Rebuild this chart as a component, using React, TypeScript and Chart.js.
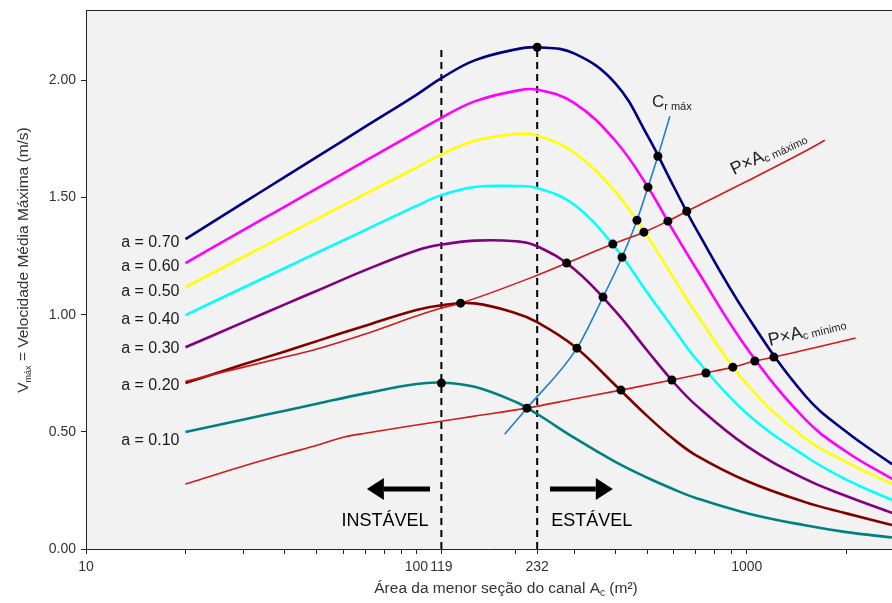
import React, { useEffect, useRef } from "react";
import { Chart, registerables } from "chart.js";

Chart.register(...registerables);

// ---------- data ----------
const areas = [20, 30, 40, 50, 70, 100, 119, 150, 200, 232, 300, 400, 500, 600, 700, 1000, 1500, 2000, 2750];
const vA70 = [1.322, 1.478, 1.588, 1.673, 1.802, 1.938, 2.009, 2.085, 2.132, 2.141, 2.115, 1.987, 1.765, 1.548, 1.369, 0.998, 0.655, 0.5, 0.362];
const vA60 = [1.22, 1.362, 1.461, 1.539, 1.656, 1.78, 1.84, 1.91, 1.955, 1.96, 1.904, 1.742, 1.548, 1.356, 1.2, 0.857, 0.554, 0.415, 0.299];
const vA50 = [1.117, 1.247, 1.338, 1.409, 1.515, 1.628, 1.684, 1.742, 1.771, 1.764, 1.692, 1.525, 1.335, 1.157, 1.009, 0.703, 0.473, 0.371, 0.277];
const vA40 = [0.998, 1.116, 1.199, 1.264, 1.361, 1.464, 1.51, 1.545, 1.549, 1.54, 1.47, 1.286, 1.093, 0.94, 0.813, 0.578, 0.397, 0.296, 0.209];
const vA30 = [0.861, 0.968, 1.044, 1.102, 1.19, 1.274, 1.299, 1.316, 1.313, 1.292, 1.195, 1.015, 0.846, 0.712, 0.615, 0.439, 0.299, 0.226, 0.154];
const vA20 = [0.708, 0.788, 0.843, 0.887, 0.953, 1.02, 1.04, 1.048, 1.006, 0.968, 0.866, 0.699, 0.567, 0.469, 0.401, 0.29, 0.2, 0.152, 0.102];
const vA10 = [0.499, 0.553, 0.59, 0.62, 0.664, 0.704, 0.71, 0.692, 0.627, 0.576, 0.475, 0.372, 0.304, 0.255, 0.218, 0.153, 0.101, 0.072, 0.049];

const curveValues = [vA70, vA60, vA50, vA40, vA30, vA20, vA10];
const curveLabels = ["a = 0.70", "a = 0.60", "a = 0.50", "a = 0.40", "a = 0.30", "a = 0.20", "a = 0.10"];
const curveLabelY = [1.309, 1.207, 1.1, 0.981, 0.857, 0.699, 0.461];
const curveColors = ["#000080", "#ff00ff", "#ffff00", "#00ffff", "#800080", "#800000", "#008080"];

const pacMaxArea = [20, 30, 40, 50, 70, 100, 119, 136, 232, 285, 393, 488, 577, 658, 1000, 1500, 1722];
const pacMaxV = [0.716, 0.776, 0.819, 0.853, 0.917, 0.994, 1.028, 1.049, 1.168, 1.22, 1.301, 1.352, 1.399, 1.441, 1.569, 1.697, 1.744];

const pacMinArea = [20, 30, 40, 50, 60.5, 70, 100, 150, 216, 300, 416, 593, 752, 907, 1057, 1207, 2133];
const pacMinV = [0.277, 0.354, 0.405, 0.443, 0.478, 0.494, 0.529, 0.567, 0.601, 0.64, 0.678, 0.721, 0.751, 0.776, 0.802, 0.819, 0.9];

const crArea = [185, 216, 306, 367, 419, 465, 502, 538, 585];
const crV = [0.49, 0.601, 0.857, 1.075, 1.245, 1.403, 1.544, 1.676, 1.847];

const dotArea = [232, 119, 136, 285, 393, 488, 577, 658, 216, 306, 367, 419, 465, 502, 538, 416, 593, 752, 907, 1057, 1207];
const dotV = [2.141, 0.708, 1.049, 1.22, 1.301, 1.352, 1.399, 1.441, 0.601, 0.857, 1.075, 1.245, 1.403, 1.544, 1.676, 0.678, 0.721, 0.751, 0.776, 0.802, 0.819];

const limitAreas = [119, 232];
const limitTop = 2.15;

const xTickValues = [10, 20, 30, 40, 50, 60, 70, 80, 90, 100, 119, 200, 232, 300, 400, 500, 600, 700, 800, 900, 1000, 2000];
const xLabeledTicks = [10, 100, 119, 232, 1000];
const yTickValues = [0, 0.5, 1.0, 1.5, 2.0];

const FONT = '"Liberation Sans", Arial, sans-serif';

type Part = { t: string; s: number; dy?: number };

function drawRich(ctx: CanvasRenderingContext2D, parts: Part[], x: number, y: number, align: "left" | "center") {
  let w = 0;
  for (const p of parts) {
    ctx.font = `${p.s}px ${FONT}`;
    w += ctx.measureText(p.t).width;
  }
  let cx = align === "center" ? x - w / 2 : x;
  ctx.textAlign = "left";
  ctx.textBaseline = "alphabetic";
  for (const p of parts) {
    ctx.font = `${p.s}px ${FONT}`;
    ctx.fillText(p.t, cx, y + (p.dy || 0));
    cx += ctx.measureText(p.t).width;
  }
}

const decorPlugin = {
  id: "decor",
  beforeDraw(chart: any) {
    const { ctx, chartArea } = chart;
    ctx.save();
    ctx.fillStyle = "#ffffff";
    ctx.fillRect(0, 0, chart.width, chart.height);
    ctx.fillStyle = "#f2f2f2";
    ctx.fillRect(chartArea.left, chartArea.top, chartArea.right - chartArea.left, chartArea.bottom - chartArea.top);
    ctx.restore();
  },
  afterDatasetsDraw(chart: any) {
    const { ctx, chartArea } = chart;
    const xs = chart.scales.x;
    const ys = chart.scales.y;
    const X = (v: number) => xs.getPixelForValue(v);
    const Y = (v: number) => ys.getPixelForValue(v);
    ctx.save();

    // top border
    ctx.strokeStyle = "#222";
    ctx.lineWidth = 1;
    ctx.beginPath();
    ctx.moveTo(chartArea.left, chartArea.top + 0.5);
    ctx.lineTo(chartArea.right, chartArea.top + 0.5);
    ctx.stroke();

    // curve labels
    ctx.fillStyle = "#1a1a1a";
    ctx.font = `16px ${FONT}`;
    ctx.textAlign = "right";
    ctx.textBaseline = "middle";
    const x0 = X(areas[0]) - 6;
    curveLabels.forEach((t, i) => ctx.fillText(t, x0, Y(curveLabelY[i])));

    // arrows
    const ay = Y(0.256);
    const drawArrow = (tail: number, tip: number) => {
      const xt = X(tail);
      const xp = X(tip);
      const dir = xp > xt ? 1 : -1;
      const headLen = 17;
      ctx.fillStyle = "#000";
      ctx.fillRect(Math.min(xt, xp - dir * headLen), ay - 2.5, Math.abs(xp - dir * headLen - xt), 5);
      ctx.beginPath();
      ctx.moveTo(xp, ay);
      ctx.lineTo(xp - dir * headLen, ay - 11);
      ctx.lineTo(xp - dir * headLen, ay + 11);
      ctx.closePath();
      ctx.fill();
    };
    drawArrow(109.9, 70.8);
    drawArrow(253.6, 393);

    ctx.fillStyle = "#000";
    ctx.font = `18px ${FONT}`;
    ctx.textAlign = "center";
    ctx.textBaseline = "middle";
    ctx.fillText("INSTÁVEL", X(80.3), Y(0.119));
    ctx.fillText("ESTÁVEL", X(339.6), Y(0.119));

    // Cr máx label
    ctx.fillStyle = "#222";
    drawRich(ctx, [{ t: "C", s: 17 }, { t: "r máx", s: 11, dy: 3 }], X(516), Y(1.885), "left");

    // P×Ac máximo
    ctx.save();
    ctx.translate(X(913), Y(1.595));
    ctx.rotate((-25 * Math.PI) / 180);
    drawRich(ctx, [{ t: "P×A", s: 18 }, { t: "c máximo", s: 11, dy: 2 }], 0, 0, "left");
    ctx.restore();

    // P×Ac mínimo
    ctx.save();
    ctx.translate(X(1174), Y(0.866));
    ctx.rotate((-14 * Math.PI) / 180);
    drawRich(ctx, [{ t: "P×A", s: 18 }, { t: "c mínimo", s: 11, dy: 2 }], 0, 0, "left");
    ctx.restore();

    // axis titles
    ctx.fillStyle = "#333";
    drawRich(
      ctx,
      [{ t: "Área da menor seção do canal A", s: 15.5 }, { t: "c", s: 10, dy: 3 }, { t: " (m²)", s: 15.5 }],
      506,
      593,
      "center"
    );
    ctx.save();
    ctx.translate(28, 260);
    ctx.rotate(-Math.PI / 2);
    drawRich(
      ctx,
      [{ t: "V", s: 15.5 }, { t: "máx", s: 9, dy: 3 }, { t: " = Velocidade Média Máxima (m/s)", s: 15.5 }],
      0,
      0,
      "center"
    );
    ctx.restore();

    ctx.restore();
  },
};

export default function App() {
  const ref = useRef<HTMLCanvasElement | null>(null);

  useEffect(() => {
    if (!ref.current) return;
    const datasets: any[] = [];

    datasets.push({
      type: "line",
      data: dotArea.map((a, i) => ({ x: a, y: dotV[i] })),
      showLine: false,
      pointRadius: 4.5,
      pointBackgroundColor: "#000",
      pointBorderWidth: 0,
      order: 0,
    });

    curveValues.forEach((vals, k) => {
      datasets.push({
        type: "line",
        data: areas.map((a, i) => ({ x: a, y: vals[i] })),
        borderColor: curveColors[k],
        borderWidth: 2.6,
        pointRadius: 0,
        tension: 0.4,
        fill: false,
        order: 3,
      });
    });

    datasets.push({
      type: "line",
      data: pacMaxArea.map((a, i) => ({ x: a, y: pacMaxV[i] })),
      borderColor: "#d11a1a",
      borderWidth: 1.6,
      pointRadius: 0,
      cubicInterpolationMode: "monotone",
      order: 2,
    });
    datasets.push({
      type: "line",
      data: pacMinArea.map((a, i) => ({ x: a, y: pacMinV[i] })),
      borderColor: "#d11a1a",
      borderWidth: 1.6,
      pointRadius: 0,
      cubicInterpolationMode: "monotone",
      order: 2,
    });
    datasets.push({
      type: "line",
      data: crArea.map((a, i) => ({ x: a, y: crV[i] })),
      borderColor: "#1f7fd0",
      borderWidth: 1.6,
      pointRadius: 0,
      cubicInterpolationMode: "monotone",
      order: 2,
    });
    limitAreas.forEach((a) => {
      datasets.push({
        type: "line",
        data: [
          { x: a, y: 0 },
          { x: a, y: limitTop },
        ],
        borderColor: "#000",
        borderWidth: 2,
        borderDash: [7, 5],
        pointRadius: 0,
        order: 4,
      });
    });

    const chart = new Chart(ref.current, {
      type: "line",
      data: { datasets },
      plugins: [decorPlugin],
      options: {
        animation: false,
        responsive: false,
        devicePixelRatio: 1,
        events: [],
        layout: { autoPadding: false, padding: { top: 10, right: 0, left: 0, bottom: 0 } },
        plugins: { legend: { display: false }, tooltip: { enabled: false } },
        scales: {
          x: {
            type: "logarithmic",
            min: 10,
            max: 2750,
            afterBuildTicks: (scale: any) => {
              scale.ticks = xTickValues.map((v) => ({ value: v }));
            },
            afterFit: (scale: any) => {
              scale.height = 54;
              scale.paddingLeft = 0;
              scale.paddingRight = 0;
              scale.paddingTop = 0;
              scale.paddingBottom = 0;
            },
            ticks: {
              autoSkip: false,
              maxRotation: 0,
              padding: 5,
              color: "#333",
              font: { family: FONT, size: 14 },
              callback: (v: any) => (xLabeledTicks.includes(Number(v)) ? String(v) : ""),
            },
            grid: { drawOnChartArea: false, drawTicks: true, tickLength: 5, color: "#222" },
            border: { display: true, color: "#222", width: 1 },
          },
          y: {
            type: "linear",
            min: 0,
            max: 2.3,
            afterBuildTicks: (scale: any) => {
              scale.ticks = yTickValues.map((v) => ({ value: v }));
            },
            afterFit: (scale: any) => {
              scale.width = 86;
              scale.paddingLeft = 0;
              scale.paddingRight = 0;
              scale.paddingTop = 0;
              scale.paddingBottom = 0;
            },
            ticks: {
              padding: 5,
              color: "#333",
              font: { family: FONT, size: 14 },
              callback: (v: any) => Number(v).toFixed(2),
            },
            grid: { drawOnChartArea: false, drawTicks: true, tickLength: 5, color: "#222" },
            border: { display: true, color: "#222", width: 1 },
          },
        },
      },
    } as any);

    return () => chart.destroy();
  }, []);

  return (
    <div style={{ position: "fixed", left: 0, top: 0, width: 892, height: 603, background: "#fff" }}>
      <canvas ref={ref} width={892} height={603} style={{ width: 892, height: 603, display: "block" }} />
    </div>
  );
}
